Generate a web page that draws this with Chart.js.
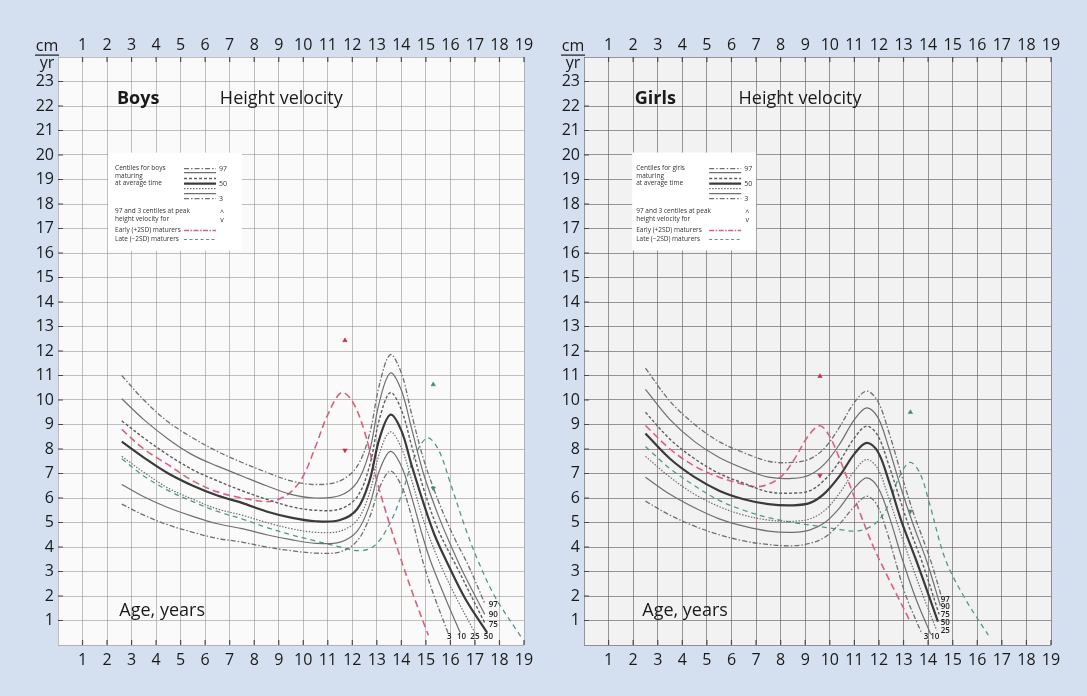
<!DOCTYPE html>
<html>
<head>
<meta charset="utf-8">
<script src="https://cdn.jsdelivr.net/npm/chart.js@4.4.1/dist/chart.umd.min.js"></script>
<style>
  html, body { margin: 0; padding: 0; background: #d4dff0; }
  #wrap { position: relative; width: 1087px; height: 696px; overflow: hidden; }
  #boysChart { position: absolute; left: 0; top: 0; }
  #girlsChart { position: absolute; left: 543px; top: 0; }
</style>
</head>
<body>
<div id="wrap">
  <canvas id="boysChart" width="543" height="696"></canvas>
  <canvas id="girlsChart" width="544" height="696"></canvas>
</div>
<script>
// axis ticks
const ageTicks = [1, 2, 3, 4, 5, 6, 7, 8, 9, 10, 11, 12, 13, 14, 15, 16, 17, 18, 19];
const velocityTicks = [1, 2, 3, 4, 5, 6, 7, 8, 9, 10, 11, 12, 13, 14, 15, 16, 17, 18, 19, 20, 21, 22, 23];
const centileNames = ['97', '90', '75', '50', '25', '10', '3'];

// BOYS  [age, cm/yr]
const boys97 = [[2.6,11.0],[3.5,10.0],[4.5,9.1],[5.5,8.45],[6.5,7.9],[7.5,7.45],[8.5,7.05],[9.5,6.7],[10.5,6.55],[11.5,6.7],[12.2,7.3],[12.7,8.6],[13.1,10.6],[13.55,11.85],[14.0,11.1],[14.4,9.5],[14.9,7.6],[15.5,5.9],[16.1,4.5],[16.75,3.2],[17.4,1.7]];
const boys90 = [[2.6,10.05],[3.5,9.2],[4.5,8.4],[5.5,7.75],[6.5,7.3],[7.5,6.9],[8.5,6.5],[9.5,6.15],[10.5,6.0],[11.5,6.1],[12.2,6.65],[12.7,7.9],[13.1,9.9],[13.55,11.1],[14.0,10.4],[14.4,8.9],[14.9,7.0],[15.5,5.3],[16.0,4.1],[16.5,3.0],[17.4,1.25]];
const boys75 = [[2.6,9.15],[3.5,8.45],[4.5,7.75],[5.5,7.15],[6.5,6.7],[7.5,6.3],[8.5,5.95],[9.5,5.65],[10.5,5.5],[11.5,5.55],[12.2,6.05],[12.7,7.3],[13.1,9.2],[13.55,10.3],[14.0,9.6],[14.4,8.2],[14.9,6.4],[15.5,4.7],[16.2,3.3],[17.4,0.9]];
const boys50 = [[2.6,8.3],[3.5,7.65],[4.5,7.0],[5.5,6.5],[6.5,6.1],[7.5,5.8],[8.5,5.45],[9.5,5.2],[10.5,5.05],[11.5,5.1],[12.2,5.55],[12.7,6.7],[13.1,8.4],[13.55,9.4],[14.0,8.75],[14.4,7.4],[14.9,5.8],[15.35,4.5],[15.85,3.4],[16.6,1.9],[17.5,0.5]];
const boys25 = [[2.6,7.7],[3.5,7.05],[4.5,6.4],[5.5,5.95],[6.5,5.55],[7.5,5.3],[8.5,5.0],[9.5,4.75],[10.5,4.6],[11.5,4.65],[12.2,5.1],[12.7,6.2],[13.1,7.8],[13.55,8.7],[14.0,8.05],[14.4,6.8],[14.9,5.1],[15.5,3.5],[16.2,2.0],[17.0,0.5]];
const boys10 = [[2.6,6.55],[3.5,6.05],[4.5,5.6],[5.5,5.25],[6.5,4.95],[7.5,4.75],[8.5,4.5],[9.5,4.3],[10.5,4.15],[11.5,4.2],[12.2,4.65],[12.7,5.7],[13.1,7.1],[13.55,7.9],[14.0,7.3],[14.4,6.1],[14.85,4.5],[15.2,3.4],[15.8,1.9],[16.4,0.5]];
const boys3 = [[2.6,5.75],[3.5,5.3],[4.5,4.9],[5.5,4.6],[6.5,4.35],[7.5,4.2],[8.5,4.0],[9.5,3.85],[10.5,3.75],[11.5,3.8],[12.2,4.25],[12.7,5.2],[13.1,6.4],[13.55,7.1],[14.0,6.5],[14.4,5.3],[14.85,3.5],[15.3,2.1],[15.9,0.5]];
const boysEarly = [[2.6,8.8],[3.5,8.0],[4.5,7.35],[5.5,6.7],[6.5,6.25],[7.5,6.0],[8.5,5.85],[9.0,5.95],[9.5,6.25],[10.0,6.9],[10.5,8.1],[11.0,9.4],[11.55,10.3],[12.0,9.95],[12.5,8.7],[13.0,6.7],[13.5,5.0],[13.95,3.6],[14.5,2.0],[15.1,0.4]];
const boysLate = [[2.6,7.6],[3.5,6.9],[4.5,6.3],[5.5,5.85],[6.5,5.45],[7.5,5.15],[8.5,4.8],[9.5,4.5],[10.5,4.25],[11.5,4.0],[12.3,3.85],[12.9,4.05],[13.5,4.9],[14.0,6.1],[14.5,7.6],[15.05,8.45],[15.5,8.0],[16.0,6.6],[16.6,4.8],[17.1,3.5],[17.8,2.0],[18.9,0.3]];
const boysEarlyPeak = [[11.7,12.43],[11.7,7.95]];
const boysLatePeak = [[15.3,10.63],[15.3,6.4]];

// GIRLS  [age, cm/yr]
const girls97 = [[2.5,11.3],[3.5,9.95],[4.5,9.0],[5.5,8.3],[6.5,7.85],[7.5,7.5],[8.5,7.45],[9.2,7.6],[9.8,8.05],[10.4,8.9],[11.0,9.9],[11.5,10.36],[11.95,9.95],[12.4,8.7],[12.9,7.0],[13.4,5.4],[13.8,4.3],[14.15,3.3],[14.55,1.95]];
const girls90 = [[2.5,10.43],[3.5,9.2],[4.5,8.3],[5.5,7.65],[6.5,7.2],[7.5,6.85],[8.5,6.8],[9.2,6.95],[9.8,7.4],[10.4,8.2],[11.0,9.2],[11.5,9.68],[11.95,9.3],[12.4,8.05],[12.9,6.4],[13.4,4.9],[13.95,3.4],[14.5,1.6]];
const girls75 = [[2.5,9.5],[3.5,8.4],[4.5,7.6],[5.5,7.0],[6.5,6.6],[7.5,6.25],[8.5,6.2],[9.2,6.3],[9.8,6.75],[10.4,7.5],[11.0,8.45],[11.5,8.93],[11.95,8.55],[12.4,7.35],[12.9,5.8],[13.3,4.6],[13.75,3.4],[14.45,1.25]];
const girls50 = [[2.5,8.63],[3.5,7.6],[4.5,6.85],[5.5,6.3],[6.5,5.95],[7.5,5.75],[8.5,5.7],[9.2,5.8],[9.8,6.2],[10.4,6.9],[11.0,7.8],[11.5,8.25],[11.95,7.9],[12.4,6.7],[12.9,5.1],[13.5,3.5],[14.0,2.1],[14.4,0.95]];
const girls25 = [[2.5,7.7],[3.5,6.85],[4.5,6.15],[5.5,5.65],[6.5,5.3],[7.5,5.1],[8.5,5.05],[9.2,5.15],[9.8,5.5],[10.4,6.2],[11.0,7.1],[11.5,7.57],[11.95,7.2],[12.4,6.0],[12.9,4.5],[13.25,3.5],[13.8,2.0],[14.35,0.6]];
const girls10 = [[2.5,6.85],[3.5,6.15],[4.5,5.6],[5.5,5.15],[6.5,4.85],[7.5,4.65],[8.5,4.6],[9.2,4.7],[9.8,5.0],[10.4,5.6],[11.0,6.4],[11.5,6.82],[11.95,6.45],[12.4,5.3],[12.95,3.5],[13.5,1.9],[14.1,0.45]];
const girls3 = [[2.5,5.87],[3.5,5.3],[4.5,4.85],[5.5,4.5],[6.5,4.25],[7.5,4.1],[8.5,4.05],[9.2,4.15],[9.8,4.4],[10.4,4.95],[11.0,5.65],[11.5,6.07],[11.9,5.75],[12.3,4.7],[12.65,3.5],[13.1,2.0],[13.75,0.45]];
const girlsEarly = [[2.5,8.96],[3.5,8.0],[4.5,7.3],[5.5,6.85],[6.5,6.55],[7.05,6.46],[7.6,6.6],[8.1,6.95],[8.6,7.65],[9.1,8.5],[9.6,8.95],[10.0,8.5],[10.4,7.6],[10.9,6.3],[11.3,5.2],[11.8,3.95],[12.3,2.9],[12.8,1.9],[13.3,0.9]];
const girlsLate = [[2.5,8.1],[3.5,7.2],[4.5,6.5],[5.5,5.9],[6.5,5.5],[7.5,5.2],[8.5,5.0],[9.5,4.85],[10.5,4.7],[11.0,4.65],[11.5,4.75],[12.0,5.1],[12.4,5.75],[12.8,6.8],[13.25,7.45],[13.65,7.05],[14.05,5.8],[14.7,3.5],[15.5,1.9],[16.45,0.4]];
const girlsEarlyPeak = [[9.6,10.97],[9.6,6.92]];
const girlsLatePeak = [[13.28,9.5],[13.28,5.46]];

// end labels of the centile curves
const boysEndLabels = [['97',17.75,1.65],['90',17.75,1.24],['75',17.75,0.84],['3',15.95,0.33],['10',16.45,0.33],['25',17.0,0.33],['50',17.55,0.33]];
const girlsEndLabels = [['97',14.7,1.86],['90',14.7,1.57],['75',14.7,1.24],['50',14.7,0.92],['25',14.7,0.59],['3',13.92,0.33],['10',14.27,0.33]];

const GRAY = '#6f6f6f';
const PINK = '#d8617c';
const GREEN = '#4f9a85';

const centileStyles = [
  { color: GRAY, width: 1.3, dash: [5, 2, 1.5, 2] },   // 97
  { color: GRAY, width: 1.2, dash: [] },               // 90
  { color: '#5e5e5e', width: 1.4, dash: [3, 2] },      // 75
  { color: '#3a3a3a', width: 2.2, dash: [] },          // 50
  { color: GRAY, width: 1.2, dash: [1.5, 1.5] },       // 25
  { color: GRAY, width: 1.2, dash: [] },               // 10
  { color: GRAY, width: 1.3, dash: [5, 2, 1.5, 2] }    // 3
];

const toXY = pts => pts.map(p => ({ x: p[0], y: p[1] }));

function curve(pts, color, width, dash) {
  return {
    data: toXY(pts),
    borderColor: color,
    borderWidth: width,
    borderDash: dash,
    pointRadius: 0,
    fill: false,
    tension: 0.35
  };
}

function markers(pts, color) {
  return {
    type: 'scatter',
    data: toXY(pts),
    pointStyle: 'triangle',
    pointRotation: [0, 180],
    pointRadius: 2.6,
    backgroundColor: color,
    borderColor: color,
    borderWidth: 0.5,
    showLine: false
  };
}

function buildDatasets(centiles, early, late, earlyPeak, latePeak) {
  const sets = centiles.map((c, i) => curve(c, centileStyles[i].color, centileStyles[i].width, centileStyles[i].dash));
  sets.push(curve(early, PINK, 1.6, [7, 4]));
  sets.push(curve(late, GREEN, 1.3, [5, 4]));
  sets.push(markers(earlyPeak, '#c0304c'));
  sets.push(markers(latePeak, '#3d8a72'));
  return sets;
}

// draws backdrop, titles, legend and small texts
const panelDecor = {
  id: 'panelDecor',
  beforeDraw(chart, args, opts) {
    const a = chart.chartArea, ctx = chart.ctx;
    ctx.save();
    ctx.fillStyle = opts.paper;
    ctx.fillRect(a.left, a.top, a.right - a.left, a.bottom - a.top);
    ctx.restore();
  },
  afterDraw(chart, args, opts) {
    const ctx = chart.ctx, a = chart.chartArea;
    const xs = chart.scales.x, ys = chart.scales.y;
    const px = v => xs.getPixelForValue(v), py = v => ys.getPixelForValue(v);
    ctx.save();

    // short edge ticks
    ctx.strokeStyle = '#4a4a4a';
    ctx.lineWidth = 1.2;
    ctx.beginPath();
    velocityTicks.forEach(v => { ctx.moveTo(a.left, py(v)); ctx.lineTo(a.left + 5, py(v)); });
    ageTicks.forEach(v => {
      ctx.moveTo(px(v), a.top); ctx.lineTo(px(v), a.top + 5);
      ctx.moveTo(px(v), a.bottom); ctx.lineTo(px(v), a.bottom - 5);
    });
    ctx.stroke();

    // cm / yr unit
    ctx.fillStyle = '#1a1a1a';
    ctx.textAlign = 'center';
    ctx.textBaseline = 'middle';
    ctx.font = '16px "Open Sans"';
    const ux = a.left - 11;
    ctx.fillText('cm', ux, 46);
    ctx.fillText('yr', ux, 63);
    ctx.fillRect(ux - 12, 54.5, 24, 1.2);

    // titles
    ctx.textAlign = 'center';
    ctx.font = 'bold 18px "Open Sans"';
    ctx.fillText(opts.title, px(opts.titleAge), py(22.3));
    ctx.textAlign = 'left';
    ctx.font = '18px "Open Sans"';
    ctx.fillText('Height velocity', px(opts.subAge), py(22.3));
    ctx.fillText('Age, years', px(opts.ageAge), py(1.4));

    // legend box
    const bx = px(opts.boxAge), by = py(20.1);
    ctx.fillStyle = '#ffffff';
    ctx.fillRect(bx, by, opts.boxW, 98);
    const tx = bx + opts.textOff, lx0 = bx + opts.lineOff, lx1 = lx0 + 32, nx = lx0 + 35;
    ctx.fillStyle = '#333333';
    ctx.font = '6.5px "Open Sans"';
    ctx.textAlign = 'left';
    ctx.fillText(opts.legendHead, tx, by + 16);
    ctx.fillText('maturing', tx, by + 24);
    ctx.fillText('at average time', tx, by + 31);
    ctx.fillText('97 and 3 centiles at peak', tx, by + 59);
    ctx.fillText('height velocity for', tx, by + 67);
    ctx.fillText('Early (+2SD) maturers', tx, by + 78);
    ctx.fillText('Late (\u22122SD) maturers', tx, by + 87);
    ctx.font = '7px "Open Sans"';
    ctx.fillText('97', nx, by + 16);
    ctx.fillText('50', nx, by + 31);
    ctx.fillText('3', nx, by + 46);
    ctx.textAlign = 'center';
    ctx.fillText('^', nx + 3, by + 60);
    ctx.fillText('v', nx + 3, by + 67);
    const rows = [16, 20, 26, 31, 36, 41, 46];
    rows.forEach((r, i) => {
      const s = centileStyles[i];
      ctx.strokeStyle = s.color;
      ctx.lineWidth = s.width;
      ctx.setLineDash(s.dash);
      ctx.beginPath(); ctx.moveTo(lx0, by + r); ctx.lineTo(lx1, by + r); ctx.stroke();
    });
    ctx.strokeStyle = PINK; ctx.lineWidth = 1.4; ctx.setLineDash([5, 1.5, 1.5, 1.5]);
    ctx.beginPath(); ctx.moveTo(lx0, by + 78); ctx.lineTo(lx1, by + 78); ctx.stroke();
    ctx.strokeStyle = GREEN; ctx.lineWidth = 1.1; ctx.setLineDash([3, 2.5]);
    ctx.beginPath(); ctx.moveTo(lx0, by + 87); ctx.lineTo(lx1, by + 87); ctx.stroke();
    ctx.setLineDash([]);

    // centile end labels
    ctx.fillStyle = '#222222';
    ctx.font = '600 8px "Open Sans"';
    ctx.textAlign = 'center';
    opts.endLabels.forEach(l => ctx.fillText(l[0], px(l[1]), py(l[2])));
    ctx.restore();
  }
};

function makeChart(id, datasets, yWidth, padRight, gridColor, decor) {
  const tickFont = { family: '"Open Sans"', size: 16 };
  const xTicks = pad => ({
    stepSize: 1, autoSkip: false, maxRotation: 0, padding: pad,
    color: '#1a1a1a', font: tickFont,
    callback: v => (v === 0 ? '' : v)
  });
  return new Chart(document.getElementById(id), {
    type: 'line',
    data: { datasets },
    options: {
      responsive: false,
      animation: false,
      layout: { padding: { left: 0, right: padRight, top: 0, bottom: 0 } },
      plugins: { legend: { display: false }, tooltip: { enabled: false }, panelDecor: decor },
      scales: {
        x: {
          type: 'linear', position: 'bottom', min: 0, max: 19,
          afterFit: s => { s.height = 51; },
          grid: { color: gridColor, lineWidth: 1, drawTicks: false },
          border: { display: false },
          ticks: xTicks(6)
        },
        x2: {
          type: 'linear', position: 'top', min: 0, max: 19,
          afterFit: s => { s.height = 57; },
          grid: { display: false, drawTicks: false },
          border: { display: false },
          ticks: xTicks(2)
        },
        y: {
          type: 'linear', min: 0, max: 24,
          afterFit: s => { s.width = yWidth; },
          grid: { color: gridColor, lineWidth: 1, drawTicks: false },
          border: { display: false },
          ticks: {
            stepSize: 1, autoSkip: false, padding: 4, color: '#1a1a1a', font: tickFont,
            callback: v => (v === 0 || v === 24 ? '' : v)
          }
        }
      }
    },
    plugins: [panelDecor]
  });
}

makeChart('boysChart',
  buildDatasets([boys97, boys90, boys75, boys50, boys25, boys10, boys3], boysEarly, boysLate, boysEarlyPeak, boysLatePeak),
  58, 19, 'rgba(140,130,130,0.5)',
  { paper: '#fafafa', title: 'Boys', titleAge: 3.27, subAge: 6.6, ageAge: 2.5, boxAge: 2.04, boxW: 134,
    textOff: 7, lineOff: 76, legendHead: 'Centiles for boys', endLabels: boysEndLabels });

makeChart('girlsChart',
  buildDatasets([girls97, girls90, girls75, girls50, girls25, girls10, girls3], girlsEarly, girlsLate, girlsEarlyPeak, girlsLatePeak),
  41, 36, 'rgba(105,95,102,0.65)',
  { paper: '#f3f2f3', title: 'Girls', titleAge: 2.9, subAge: 6.29, ageAge: 2.37, boxAge: 1.96, boxW: 124,
    textOff: 4, lineOff: 77, legendHead: 'Centiles for girls', endLabels: girlsEndLabels });
</script>
</body>
</html>
